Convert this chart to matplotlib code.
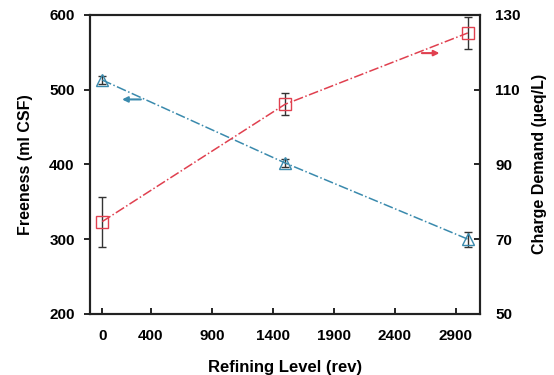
import matplotlib.pyplot as plt

plt.rcParams['font.family'] = ['Liberation Sans', 'DejaVu Sans']
plt.rcParams['font.weight'] = 'bold'

# Datos
refinado = [0, 1500, 3000]
freeness = [513, 402, 300]
freeness_err = [5, 5, 10]
carga = [74.7, 106.1, 125.2]
carga_err = [6.7, 3.0, 4.3]

xticks = [0, 400, 900, 1400, 1900, 2400, 2900]
yticks_izq = [200, 300, 400, 500, 600]
yticks_der = [50, 70, 90, 110, 130]

azul = '#3a8aad'
rojo = '#e0404f'

fig = plt.figure(figsize=(5.54, 3.75), dpi=100)
ax = fig.add_axes([0.1625, 0.163, 0.704, 0.797])
ax2 = ax.twinx()

ax.errorbar(refinado, freeness, yerr=freeness_err, color=azul, linestyle='-.',
            linewidth=1.1, marker='^', markersize=8, markerfacecolor='none',
            markeredgecolor=azul, ecolor='#333333', elinewidth=1, capsize=3)
ax2.errorbar(refinado, carga, yerr=carga_err, color=rojo, linestyle='-.',
             linewidth=1.1, marker='s', markersize=9, markerfacecolor='none',
             markeredgecolor=rojo, ecolor='#333333', elinewidth=1, capsize=3)

# Flechas
ax.annotate('', xy=(140, 487), xytext=(340, 487),
            arrowprops=dict(arrowstyle='-|>', color=azul, lw=1.5, mutation_scale=8))
ax2.annotate('', xy=(2790, 119.8), xytext=(2600, 119.8),
             arrowprops=dict(arrowstyle='-|>', color=rojo, lw=1.5, mutation_scale=8))

ax.set_xlim(-100, 3100)
ax.set_ylim(200, 600)
ax2.set_ylim(50, 130)
ax.set_xticks(xticks)
ax.set_yticks(yticks_izq)
ax2.set_yticks(yticks_der)

ax.set_xlabel('Refining Level (rev)', fontsize=12, fontweight='bold', labelpad=12)
ax.set_ylabel('Freeness (ml CSF)', fontsize=11.5, fontweight='bold', labelpad=12)
ax2.set_ylabel('Charge Demand (\u00b5eq/L)', fontsize=11.5, fontweight='bold', labelpad=8)

for a in (ax, ax2):
    for s in a.spines.values():
        s.set_linewidth(1.5)
        s.set_color('#222222')
ax.tick_params(axis='x', direction='in', length=4, width=1.2, labelsize=11, pad=11)
ax.tick_params(axis='y', direction='out', length=4, width=1.2, labelsize=11, pad=7)
ax2.tick_params(axis='y', direction='in', length=4, width=1.2, labelsize=11, pad=11)
for lab in ax.get_xticklabels() + ax.get_yticklabels() + ax2.get_yticklabels():
    lab.set_fontweight('bold')

fig.savefig('out.png', dpi=100)
